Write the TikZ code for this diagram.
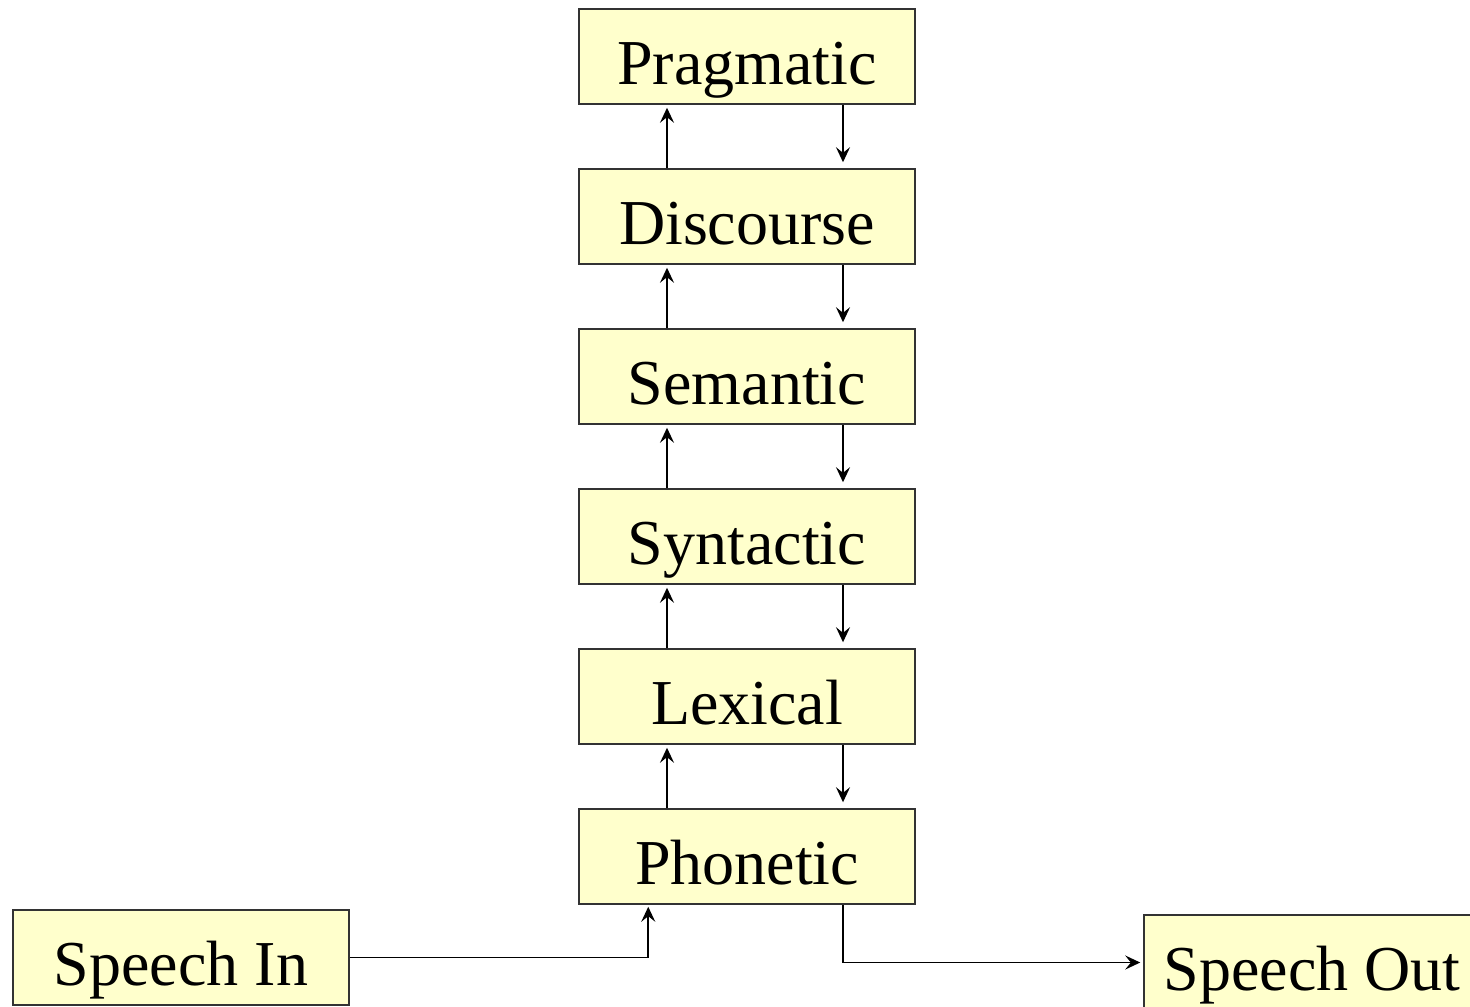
\documentclass[tikz,border=0pt]{standalone}
\usepackage{fontspec}
\setmainfont{Liberation Serif}
\usetikzlibrary{arrows.meta,calc}
\definecolor{boxfill}{HTML}{FFFFCC}
\definecolor{boxline}{HTML}{333333}
\tikzset{
  layer/.style={draw=boxline, line width=0.75pt, fill=boxfill, inner sep=0pt,
    minimum width=168pt, minimum height=47.5pt, text height=30pt, text depth=2pt,
    font=\fontsize{32}{36}\selectfont},
  conn/.style={draw=black, line width=0.8pt, -{Stealth[length=7.5pt,width=7pt,inset=2.8pt]}},
}
\begin{document}
\begin{tikzpicture}[x=0.5pt,y=-0.5pt]
\useasboundingbox (0,0) rectangle (1470,1006);
\clip (0,0) rectangle (1470,1006);
\node[layer] (prag) at (747,56.5) {Pragmatic};
\node[layer] (disc) at (747,216.5) {Discourse};
\node[layer] (sem)  at (747,376.5) {Semantic};
\node[layer] (syn)  at (747,536.5) {Syntactic};
\node[layer] (lex)  at (747,696.5) {Lexical};
\node[layer] (phon) at (747,856.5) {Phonetic};
\node[layer] (sin)  at (181,957.5) {Speech In};
\node[layer] (sout) at (1312,962.5) {Speech Out};
\coordinate (upx) at (667,0);
\coordinate (dnx) at (843,0);
\foreach \lo/\hi in {disc/prag,sem/disc,syn/sem,lex/syn,phon/lex}{
  \draw[conn, shorten >=1.5pt] (\lo.north -| upx) -- (\hi.south -| upx);
  \draw[conn, shorten >=3pt] (\hi.south -| dnx) -- (\lo.north -| dnx);
}
\draw[conn, shorten >=1pt] (sin.east) -| ($(phon.south west)+(70,0)$);
\draw[conn, shorten >=1.5pt] (phon.south -| dnx) |- (sout.west);
\end{tikzpicture}
\end{document}
